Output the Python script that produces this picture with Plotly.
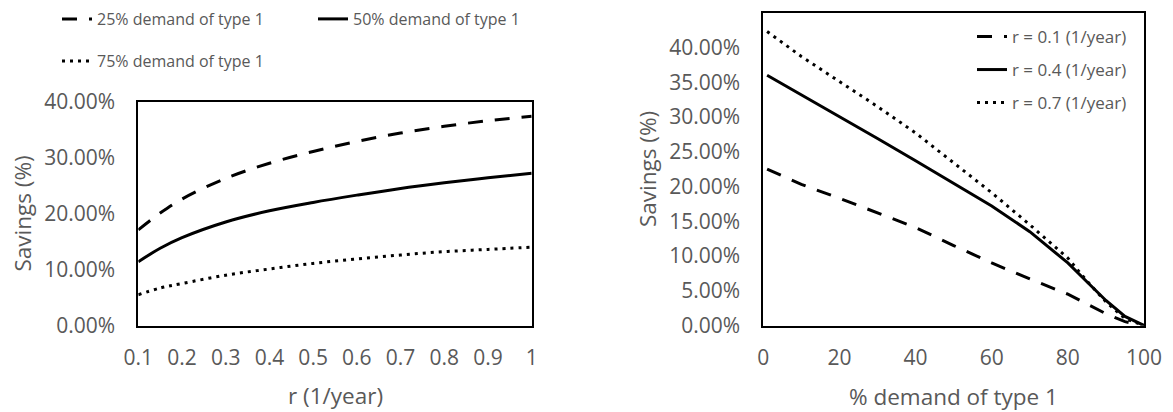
import plotly.graph_objects as go

# ---- Left chart data: savings vs r ----
r_vals = [0.1, 0.15, 0.2, 0.3, 0.4, 0.5, 0.6, 0.7, 0.8, 0.9, 1.0]
sav_25 = [17.1, 20.1, 22.6, 26.3, 29.0, 31.1, 32.9, 34.4, 35.6, 36.6, 37.4]
sav_50 = [11.4, 13.8, 15.7, 18.5, 20.5, 22.0, 23.3, 24.5, 25.5, 26.4, 27.2]
sav_75 = [5.5, 6.7, 7.5, 9.0, 10.1, 11.1, 11.9, 12.6, 13.2, 13.6, 14.0]
left_names = ["25% demand of type 1", "50% demand of type 1", "75% demand of type 1"]
left_xticks = [0.1, 0.2, 0.3, 0.4, 0.5, 0.6, 0.7, 0.8, 0.9, 1.0]
left_xtext = ["0.1", "0.2", "0.3", "0.4", "0.5", "0.6", "0.7", "0.8", "0.9", "1"]
left_yticks = [0, 10, 20, 30, 40]

# ---- Right chart data: savings vs % demand of type 1 ----
dem_vals = [1, 10, 20, 30, 40, 50, 60, 70, 80, 85, 90, 95, 100]
sav_r01 = [22.5, 20.3, 18.3, 16.2, 14.1, 11.5, 9.0, 6.7, 4.5, 3.1, 1.7, 0.55, 0]
sav_r04 = [36.0, 33.2, 30.1, 26.9, 23.7, 20.5, 17.2, 13.5, 9.0, 6.3, 3.6, 1.3, 0]
sav_r07 = [42.3, 38.7, 35.1, 31.5, 27.7, 23.4, 19.1, 14.5, 9.7, 6.4, 3.4, 1.0, 0]
right_names = ["r = 0.1 (1/year)", "r = 0.4 (1/year)", "r = 0.7 (1/year)"]
right_xticks = [0, 20, 40, 60, 80, 100]
right_yticks = [0, 5, 10, 15, 20, 25, 30, 35, 40, 45]

W, H = 1173, 412
FONT = "Open Sans"
GREY = "#595959"
DASH = "15px,12px"
DOT = "3px,5px"

fig = go.Figure()

styles = [DASH, "solid", DOT]
left_series = [sav_25, sav_50, sav_75]
right_series = [sav_r01, sav_r04, sav_r07]

for i, (name, ys) in enumerate(zip(left_names, left_series)):
    fig.add_trace(go.Scatter(
        x=r_vals, y=ys, mode="lines", name=name, line_shape="spline",
        line=dict(color="black", width=3, dash=styles[i]),
        xaxis="x", yaxis="y", legend=("legend" if i == 0 else f"legend{i+1}"),
    ))
for i, (name, ys) in enumerate(zip(right_names, right_series)):
    fig.add_trace(go.Scatter(
        x=dem_vals, y=ys, mode="lines", name=name,
        line=dict(color="black", width=3, dash=styles[i]),
        xaxis="x2", yaxis="y2", legend=f"legend{i+4}",
    ))

def px(x):
    return x / W

def py(y):
    return 1 - y / H

def pct_labels(vals):
    return [f"{v:.2f}%" for v in vals]

axis_common = dict(
    showgrid=False, zeroline=False, showline=True, mirror=True,
    linecolor="black", linewidth=2, ticks="outside",
    tickcolor="rgba(0,0,0,0)",
    tickfont=dict(family=FONT, size=21, color=GREY),
)

legend_common = dict(
    bgcolor="rgba(0,0,0,0)", borderwidth=0, xanchor="left", yanchor="middle",
    orientation="v",
)

layout_legends = {}
left_leg_pos = [(97, 19), (353, 19), (97, 61)]
for i, (tx, cy) in enumerate(left_leg_pos):
    key = "legend" if i == 0 else f"legend{i+1}"
    layout_legends[key] = dict(legend_common, x=px(tx - 40), y=py(cy),
                               font=dict(family=FONT, size=16, color=GREY))
right_leg_pos = [(1012, 37), (1012, 70), (1012, 103)]
for i, (tx, cy) in enumerate(right_leg_pos):
    layout_legends[f"legend{i+4}"] = dict(legend_common, x=px(tx - 40), y=py(cy),
                                          font=dict(family=FONT, size=17, color=GREY))

fig.update_layout(
    width=W, height=H,
    margin=dict(l=0, r=0, t=0, b=0, autoexpand=False),
    paper_bgcolor="white", plot_bgcolor="white",
    showlegend=True,
    xaxis=dict(axis_common, domain=[px(138.3), px(531.7)], range=[0.1, 1.0],
               tickvals=left_xticks, ticktext=left_xtext, ticklen=12, anchor="y"),
    yaxis=dict(axis_common, domain=[py(325.5), py(101.7)], range=[0, 40],
               tickvals=left_yticks, ticktext=pct_labels(left_yticks),
               ticklen=17, anchor="x"),
    xaxis2=dict(axis_common, domain=[px(763.3), px(1144)], range=[0, 100],
                tickvals=right_xticks, ticktext=[str(v) for v in right_xticks],
                ticklen=12, anchor="y2"),
    yaxis2=dict(axis_common, domain=[py(325.5), py(12.7)], range=[0, 45],
                tickvals=right_yticks, ticktext=pct_labels(right_yticks),
                ticklen=17, anchor="x2"),
    **layout_legends,
)

title_font = dict(family=FONT, size=22.5, color=GREY)
annots = [
    dict(text="Savings (%)", x=px(23), y=py(213.6), textangle=-90),
    dict(text="r (1/year)", x=px(335), y=py(395)),
    dict(text="Savings (%)", x=px(648), y=py(169), textangle=-90),
    dict(text="% demand of type 1", x=px(953.7), y=py(396.7)),
]
for a in annots:
    fig.add_annotation(xref="paper", yref="paper", showarrow=False,
                       xanchor="center", yanchor="middle", font=title_font, **a)

fig.write_html(
    "out.html",
    config={"displayModeBar": False},
    post_script="document.body.style.margin='0px';document.body.style.overflow='hidden';",
)
